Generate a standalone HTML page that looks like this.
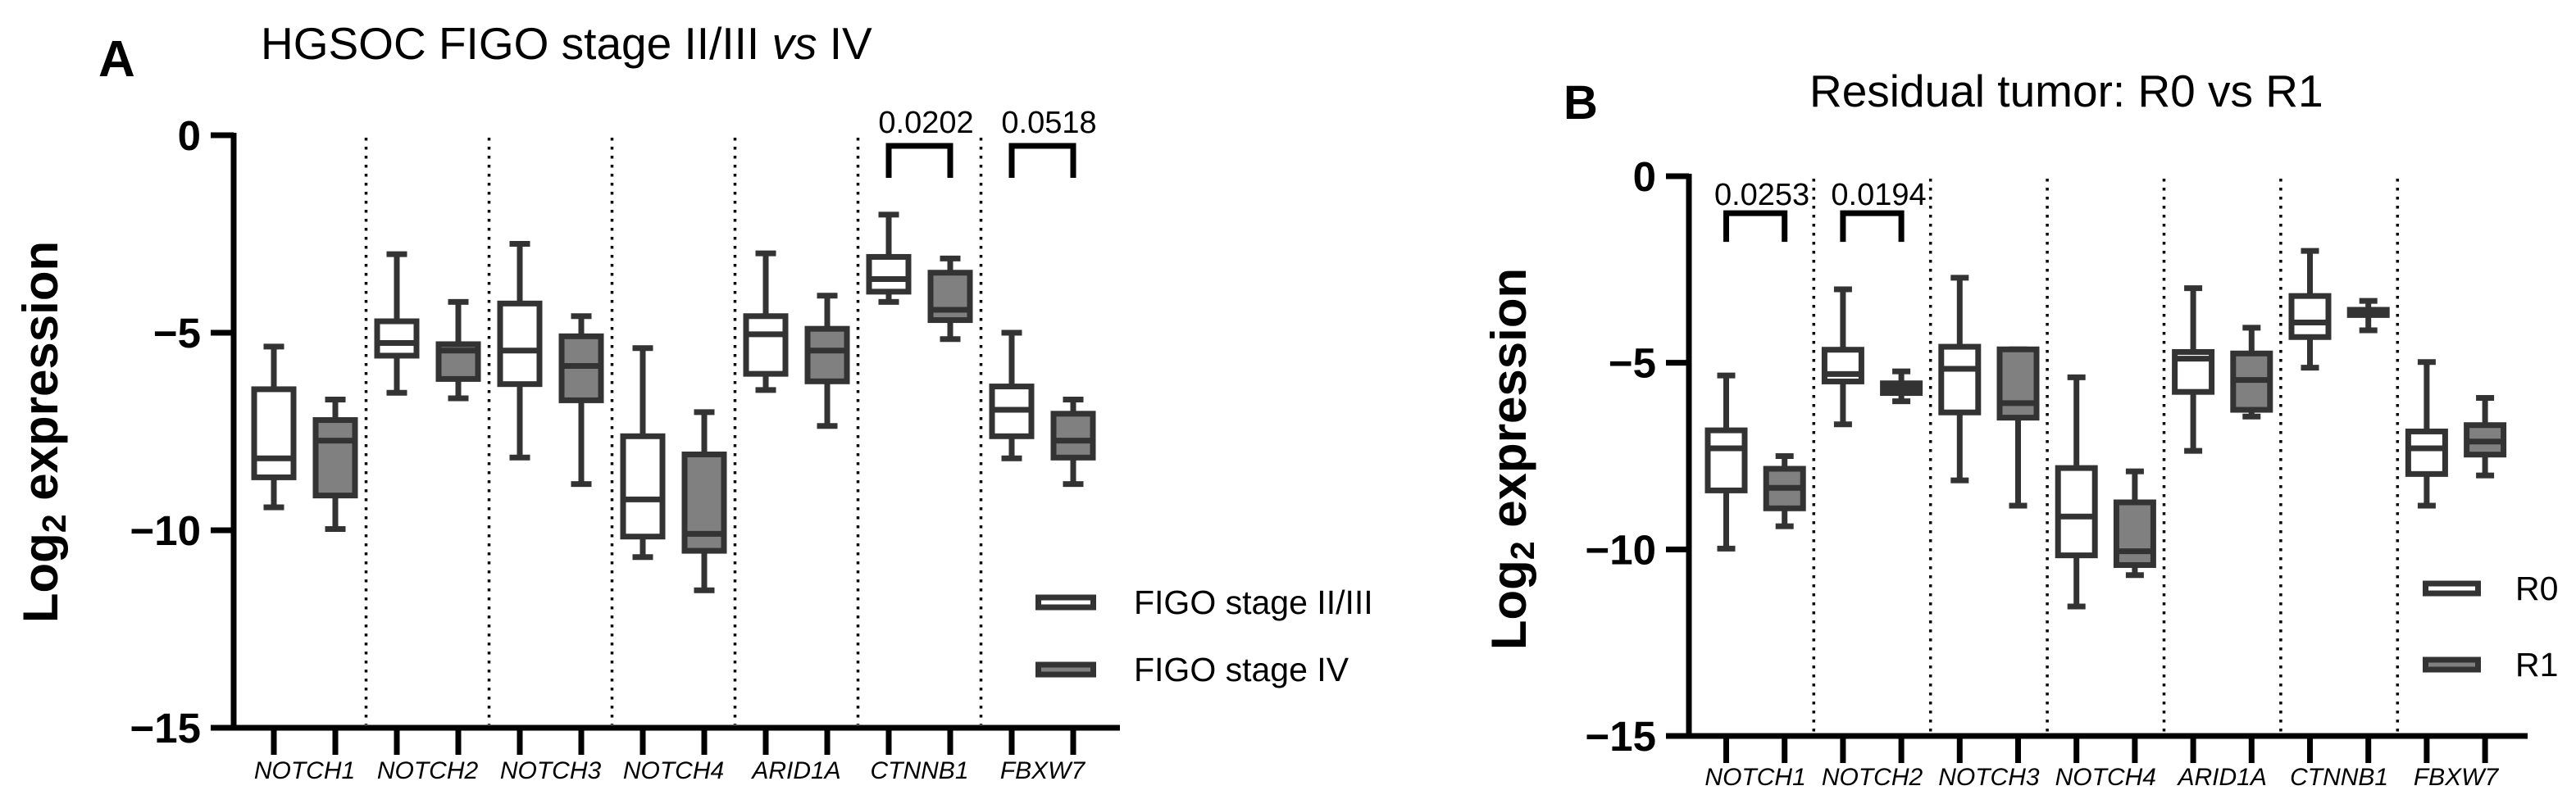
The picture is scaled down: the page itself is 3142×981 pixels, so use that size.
<!DOCTYPE html>
<html><head><meta charset="utf-8"><style>
html,body{margin:0;padding:0;background:#fff;}
svg{display:block;font-family:"Liberation Sans",Arial,sans-serif;}
</style></head><body>
<svg id="fig" width="3142" height="981" viewBox="0 0 3142 981" xmlns="http://www.w3.org/2000/svg">
<text x="120" y="93" font-size="62" font-weight="bold">A</text>
<text x="318" y="72" font-size="55">HGSOC FIGO stage II/III <tspan font-style="italic">vs</tspan> IV</text>
<text x="1907" y="145" font-size="58" font-weight="bold">B</text>
<text x="2207" y="130" font-size="55">Residual tumor: R0 vs R1</text>
<text transform="translate(70,527) rotate(-90)" text-anchor="middle" font-size="60" font-weight="bold">Log<tspan font-size="41" dy="10">2</tspan><tspan dy="-10"> expression</tspan></text>
<text transform="translate(1861,560) rotate(-90)" text-anchor="middle" font-size="60" font-weight="bold">Log<tspan font-size="41" dy="10">2</tspan><tspan dy="-10"> expression</tspan></text>
<g id="pa"></g>
<g id="pb"></g>
</svg>
<script>
const genes = ["NOTCH1","NOTCH2","NOTCH3","NOTCH4","ARID1A","CTNNB1","FBXW7"];
const yTicks = [0,-5,-10,-15];
// [max, q3, median, q1, min]
const aStage23 = [[-5.35,-6.43,-8.18,-8.66,-9.42],[-3.01,-4.71,-5.26,-5.58,-6.52],[-2.75,-4.26,-5.45,-6.30,-8.16],[-5.39,-7.62,-9.22,-10.16,-10.68],[-2.99,-4.58,-5.04,-6.04,-6.45],[-2.01,-3.08,-3.64,-3.96,-4.22],[-5.0,-6.36,-6.95,-7.62,-8.18]];
const aStage4 = [[-6.69,-7.21,-7.73,-9.12,-9.97],[-4.22,-5.29,-5.45,-6.17,-6.66],[-4.58,-5.09,-5.84,-6.71,-8.83],[-7.01,-8.08,-10.09,-10.52,-11.52],[-4.06,-4.90,-5.45,-6.23,-7.36],[-3.12,-3.48,-4.42,-4.68,-5.16],[-6.69,-7.05,-7.73,-8.16,-8.83]];
const bR0 = [[-5.34,-6.81,-7.29,-8.42,-9.98],[-3.03,-4.65,-5.30,-5.50,-6.65],[-2.72,-4.57,-5.16,-6.33,-8.15],[-5.39,-7.82,-9.12,-10.16,-11.53],[-3.0,-4.71,-4.89,-5.78,-7.36],[-2.0,-3.21,-3.92,-4.31,-5.13],[-4.98,-6.84,-7.29,-7.98,-8.83]];
const bR1 = [[-7.50,-7.84,-8.35,-8.90,-9.38],[-5.23,-5.55,-5.67,-5.81,-6.03],[-4.64,-4.64,-6.08,-6.47,-8.83],[-7.91,-8.74,-10.05,-10.42,-10.69],[-4.06,-4.75,-5.46,-6.26,-6.44],[-3.34,-3.58,-3.65,-3.72,-4.13],[-5.94,-6.67,-7.11,-7.46,-8.02]];
const aSigGenes = [5,6];
const aSigLabels = ["0.0202","0.0518"];
const bSigGenes = [0,1];
const bSigLabels = ["0.0253","0.0194"];
const aLegend = ["FIGO stage II/III","FIGO stage IV"];
const bLegend = ["R0","R1"];

const NS="http://www.w3.org/2000/svg";
function mk(parent,tag,attrs){const e=document.createElementNS(NS,tag);for(const k in attrs)e.setAttribute(k,attrs[k]);parent.appendChild(e);return e;}

function panel(g,cfg,s1,s2,sigG,sigL,leg,pfx){
  const y=v=>cfg.y0+(0-v)*(cfg.y15-cfg.y0)/15;
  const xt=i=>cfg.t0+i*cfg.dt;
  let ax=mk(g,'line',{x1:cfg.ax,y1:y(0)-3,x2:cfg.ax,y2:y(-15)+3,stroke:'#000','stroke-width':7});
  
  ax=mk(g,'line',{x1:cfg.ax-3,y1:y(-15),x2:cfg.xe,y2:y(-15),stroke:'#000','stroke-width':7});
  
  yTicks.forEach(v=>{
    const t=mk(g,'line',{x1:cfg.ax-28,y1:y(v),x2:cfg.ax,y2:y(v),stroke:'#000','stroke-width':7});
    
    const l=mk(g,'text',{x:cfg.ax-40,y:y(v)+18,'text-anchor':'end','font-size':51,'font-weight':'bold'});
    l.textContent=v===0?'0':'\u2212'+Math.abs(v);
    
  });
  for(let i=1;i<genes.length;i++){
    const sx=(xt(2*i-1)+xt(2*i))/2;
    const s=mk(g,'line',{x1:sx,y1:y(0)+3,x2:sx,y2:y(-15)-4,stroke:'#000','stroke-width':3.5,'stroke-dasharray':'3.5 7.5'});
    
  }
  genes.forEach((gn,i)=>{
    [s1,s2].forEach((ser,j)=>{
      const cx=xt(2*i+j);
      const t=mk(g,'line',{x1:cx,y1:y(-15),x2:cx,y2:y(-15)+33,stroke:'#000','stroke-width':7});
      
      const d=ser[i];
      const grp=mk(g,'g',{});
      
      
      const hw=cfg.bw/2, cw=cfg.cw/2;
      mk(grp,'line',{x1:cx,y1:y(d[0]),x2:cx,y2:y(d[1]),stroke:'#333','stroke-width':7});
      mk(grp,'line',{x1:cx,y1:y(d[3]),x2:cx,y2:y(d[4]),stroke:'#333','stroke-width':7});
      mk(grp,'line',{x1:cx-cw,y1:y(d[0]),x2:cx+cw,y2:y(d[0]),stroke:'#333','stroke-width':7});
      mk(grp,'line',{x1:cx-cw,y1:y(d[4]),x2:cx+cw,y2:y(d[4]),stroke:'#333','stroke-width':7});
      mk(grp,'rect',{x:cx-hw,y:y(d[1]),width:cfg.bw,height:Math.max(1,y(d[3])-y(d[1])),fill:j?'#808080':'#fff',stroke:'#333','stroke-width':7});
      mk(grp,'line',{x1:cx-hw,y1:y(d[2]),x2:cx+hw,y2:y(d[2]),stroke:'#333','stroke-width':7});
    });
    const lb=mk(g,'text',{x:(xt(2*i)+xt(2*i+1))/2,y:cfg.lblY,'text-anchor':'middle','font-size':30,'font-style':'italic'});
    lb.textContent=gn;
    
  });
  sigG.forEach((gi,k)=>{
    const x1=xt(2*gi),x2=xt(2*gi+1);
    const b=mk(g,'path',{d:`M${x1},${y(cfg.bBot)} V${y(cfg.bTop)} H${x2} V${y(cfg.bBot)}`,fill:'none',stroke:'#000','stroke-width':7});
    
    const t=mk(g,'text',{x:(x1+x2)/2+8,y:y(cfg.bTxt),'text-anchor':'middle','font-size':38});
    t.textContent=sigL[k];
    
  });
  leg.forEach((name,k)=>{
    const ly=cfg.legY[k];
    const e=mk(g,'g',{});
    
    mk(e,'rect',{x:cfg.legX+3.5,y:ly-6,width:cfg.legW-7,height:12,fill:k?'#808080':'#fff',stroke:'#333','stroke-width':7});
    const t=mk(e,'text',{x:cfg.legTX,y:ly+14,'font-size':41});
    t.textContent=name;
  });
}
panel(document.getElementById('pa'),{ax:285,xe:1366,y0:165,y15:888,t0:334,dt:75,bw:48,cw:25,lblY:950,bTop:-0.27,bBot:-1.08,bTxt:0.06,legX:1263,legW:74,legTX:1383,legY:[735,817]},aStage23,aStage4,aSigGenes,aSigLabels,aLegend,'a');
panel(document.getElementById('pb'),{ax:2060,xe:3083,y0:215,y15:898,t0:2105.5,dt:71.2,bw:45,cw:22,lblY:958,bTop:-0.99,bBot:-1.76,bTxt:-0.77,legX:2955,legW:71,legTX:3068,legY:[718,811]},bR0,bR1,bSigGenes,bSigLabels,bLegend,'b');
</script>
</body></html>
